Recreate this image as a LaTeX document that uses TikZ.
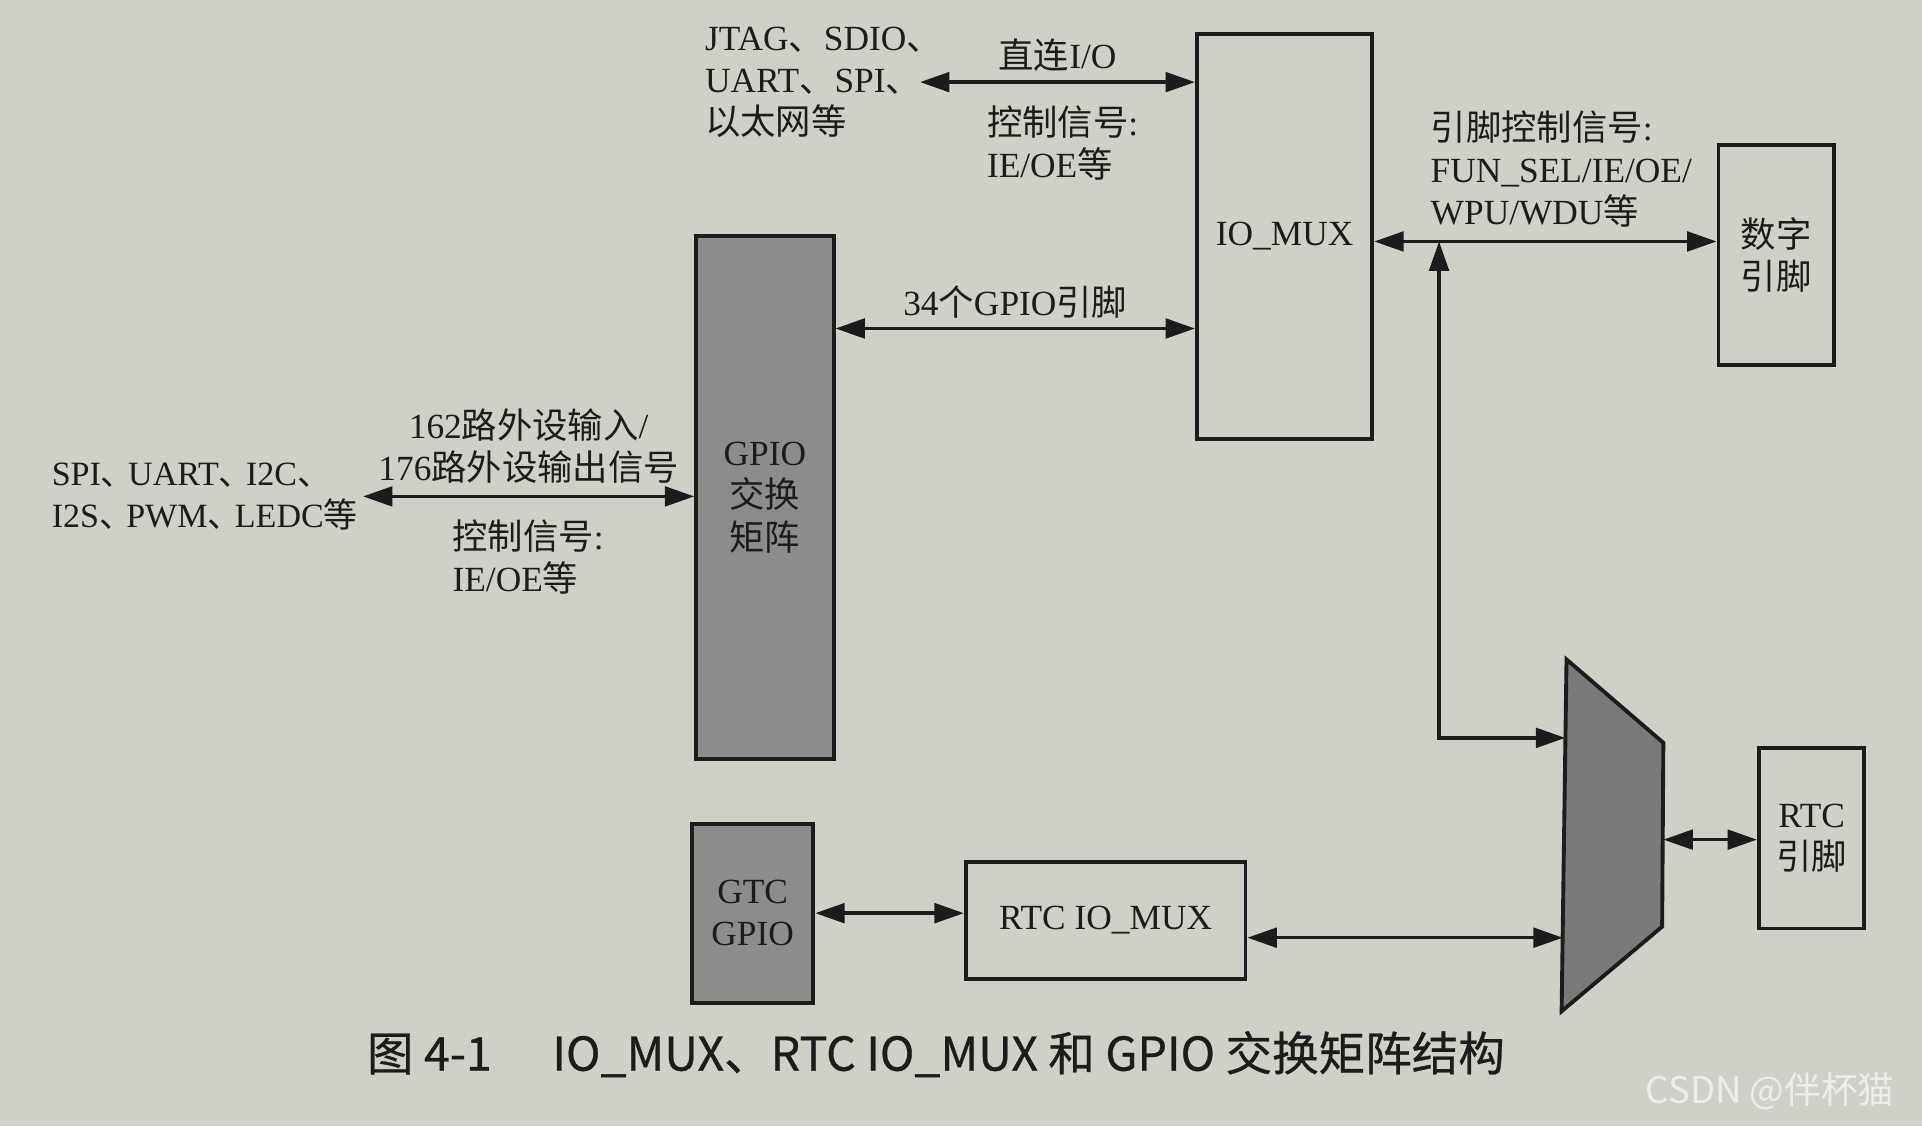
\documentclass[tikz,border=0pt]{standalone}
\usepackage{fontspec}
\setmainfont{Liberation Serif}
\newfontfamily\cjk{Noto Sans CJK SC}
\newfontfamily\capfont[FakeBold=0.6]{Noto Sans CJK SC}
\usetikzlibrary{arrows.meta}

\newcommand\zh[1]{{\cjk #1}}
\newcommand\dun{\zh{、}\kern-0.2em}

\definecolor{paper}{RGB}{208,208,200}
\definecolor{ink}{RGB}{28,28,28}
\definecolor{boxgray}{RGB}{140,140,138}
\definecolor{muxgray}{RGB}{122,122,122}
\definecolor{wmark}{RGB}{236,236,236}

\tikzset{
  blk/.style={draw=ink, line width=0.9pt, inner sep=0pt, align=center},
  grayblk/.style={blk, fill=boxgray},
  lbl/.style={text=ink, inner sep=1pt},
  link/.style={draw=ink, line width=0.8pt,
    {Triangle[length=0.24cm,width=0.16cm]}-{Triangle[length=0.24cm,width=0.16cm]}},
}

\begin{document}
\begin{tikzpicture}[x=0.01cm, y=-0.01cm, font=\fontsize{8.2}{9.8}\selectfont, text=ink]

% Paper
\fill[paper] (0,0) rectangle (1568,919);
\useasboundingbox (0,0) rectangle (1568,919);

% Blocks
\node[blk, minimum width=1.43cm, minimum height=3.30cm] (iomux) at (1048,193) {IO\_MUX};
\node[blk, minimum width=0.94cm, minimum height=1.80cm] (digpin) at (1449,208) {\zh{数字}\\\zh{引脚}};
\node[grayblk, minimum width=1.12cm, minimum height=4.26cm] (gpiomatrix) at (624,406) {GPIO\\\zh{交换}\\\zh{矩阵}};
\node[grayblk, minimum width=0.99cm, minimum height=1.46cm] (gtcgpio) at (614,745) {GTC\\GPIO};
\node[blk, minimum width=2.28cm, minimum height=0.96cm] (rtciomux) at (902,751) {RTC IO\_MUX};
\node[blk, minimum width=0.86cm, minimum height=1.47cm] (rtcpin) at (1478,684) {RTC\\\zh{引脚}};

% Multiplexer
\coordinate (mux-tl) at (1278,538);
\coordinate (mux-tr) at (1357,606);
\coordinate (mux-br) at (1356,756);
\coordinate (mux-bl) at (1274,825);
\filldraw[fill=muxgray, draw=ink, line width=0.9pt] (mux-tl) -- (mux-tr) -- (mux-br) -- (mux-bl) -- cycle;
\coordinate (mux-a) at (1277,602);
\coordinate (mux-b) at (1275,765);
\coordinate (mux-c) at (1357,685);

% Outside signals
\node[lbl, anchor=west, align=left] (jtag) at (571,67) {JTAG\zh{、}SDIO\zh{、}\\UART\zh{、}SPI\zh{、}\\\zh{以太网等}};
\node[lbl, anchor=west, align=left, font=\fontsize{7.9}{9.8}\selectfont] (periph) at (38,405) {SPI\dun UART\dun I2C\zh{、}\\I2S\dun PWM\dun LEDC\zh{等}};

% Side labels
\node[lbl, anchor=north west, align=left] (ctrla) at (801,82) {\zh{控制信号}:\\IE/OE\zh{等}};
\node[lbl, anchor=north west, align=left] (ctrlb) at (365,420) {\zh{控制信号}:\\IE/OE\zh{等}};
\node[lbl, anchor=north west, align=left] (pinctrl) at (1163,86) {\zh{引脚控制信号}:\\FUN\_SEL/IE/OE/\\WPU/WDU\zh{等}};

% Connectors
\coordinate (bus34) at (830,268);
\coordinate (pinbus) at (1174,197);
\draw[link] ([xshift=-0.22cm]jtag.east) -- node[lbl, above=1pt] {\zh{直连}I/O} (jtag.east -| iomux.west);
\draw[link] (gpiomatrix.east |- bus34) -- node[lbl, above=1pt] {34\zh{个}GPIO\zh{引脚}} (iomux.west |- bus34);
\draw[link] (periph.east) -- node[lbl, above=1.5pt, align=center] {162\zh{路外设输入}/\\176\zh{路外设输出信号}} (periph.east -| gpiomatrix.west);
\draw[link] (iomux.east |- pinbus) -- (digpin.west |- pinbus);
\draw[link] (pinbus) -- (pinbus |- mux-a) -- (mux-a);
\draw[link] (gtcgpio.east) -- (gtcgpio.east -| rtciomux.west);
\draw[link] (rtciomux.east |- mux-b) -- (mux-b);
\draw[link] (mux-c) -- (mux-c -| rtcpin.west);

% Caption
\node[anchor=west, font=\capfont\fontsize{10.8}{13}\selectfont, text=ink] (caption) at (287,860) {图 4-1\hspace{1.3em}IO\_MUX、RTC IO\_MUX 和 GPIO 交换矩阵结构};
\node[anchor=east, font=\cjk\fontsize{8.5}{10}\selectfont, text=wmark] (mark) at (1558,890) {CSDN @伴杯猫};

\end{tikzpicture}
\end{document}
